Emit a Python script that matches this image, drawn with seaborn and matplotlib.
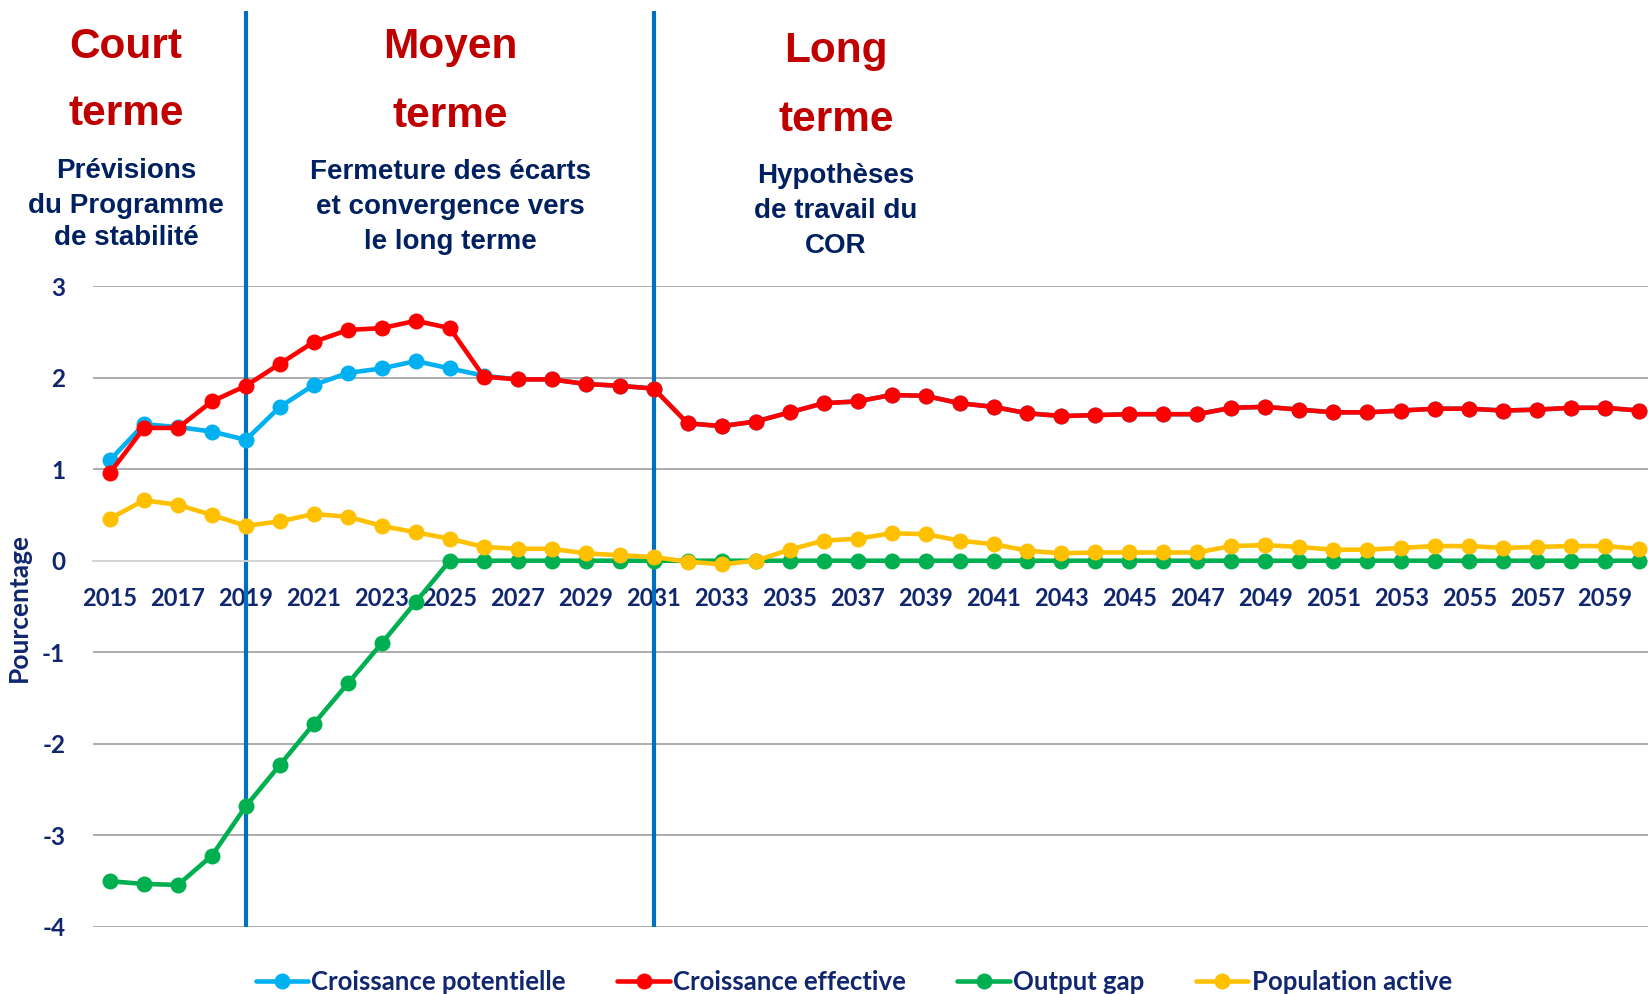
import pandas as pd
import matplotlib
matplotlib.use("Agg")
import matplotlib.pyplot as plt
from matplotlib.lines import Line2D
import seaborn as sns

years = list(range(2015, 2061))

croissance_potentielle = [1.10, 1.49, 1.46, 1.41, 1.32, 1.68, 1.92, 2.05, 2.10, 2.18, 2.10,
                          2.02, 1.98, 1.98, 1.93, 1.91, 1.88, 1.50, 1.47, 1.52, 1.62, 1.72,
                          1.74, 1.81, 1.80, 1.72, 1.68, 1.61, 1.58, 1.59, 1.60, 1.60, 1.60,
                          1.67, 1.68, 1.65, 1.62, 1.62, 1.64, 1.66, 1.66, 1.64, 1.65, 1.67,
                          1.67, 1.64]
croissance_effective = [0.96, 1.45, 1.45, 1.74, 1.91, 2.15, 2.39, 2.52, 2.54, 2.62, 2.54,
                        2.01, 1.98, 1.98, 1.93, 1.91, 1.88, 1.50, 1.47, 1.52, 1.62, 1.72,
                        1.74, 1.81, 1.80, 1.72, 1.68, 1.61, 1.58, 1.59, 1.60, 1.60, 1.60,
                        1.67, 1.68, 1.65, 1.62, 1.62, 1.64, 1.66, 1.66, 1.64, 1.65, 1.67,
                        1.67, 1.64]
output_gap = [-3.50, -3.53, -3.54, -3.22, -2.68, -2.23, -1.78, -1.34, -0.90, -0.45, 0.0,
              0.0, 0.0, 0.0, 0.0, 0.0, 0.0, 0.0, 0.0, 0.0, 0.0, 0.0,
              0.0, 0.0, 0.0, 0.0, 0.0, 0.0, 0.0, 0.0, 0.0, 0.0, 0.0,
              0.0, 0.0, 0.0, 0.0, 0.0, 0.0, 0.0, 0.0, 0.0, 0.0, 0.0,
              0.0, 0.0]
population_active = [0.46, 0.66, 0.61, 0.50, 0.38, 0.43, 0.51, 0.48, 0.38, 0.31, 0.24,
                     0.15, 0.13, 0.13, 0.08, 0.06, 0.04, -0.01, -0.04, 0.00, 0.12, 0.22,
                     0.24, 0.30, 0.29, 0.22, 0.18, 0.11, 0.08, 0.09, 0.09, 0.09, 0.09,
                     0.16, 0.17, 0.15, 0.12, 0.12, 0.14, 0.16, 0.16, 0.14, 0.15, 0.16,
                     0.16, 0.13]

series = ["Croissance potentielle", "Croissance effective", "Output gap", "Population active"]
colors = ["#00B0F0", "#FF0000", "#00B050", "#FFC000"]
period_bounds = [2019, 2031]

df = pd.DataFrame({
    "Année": years,
    "Croissance potentielle": croissance_potentielle,
    "Croissance effective": croissance_effective,
    "Output gap": output_gap,
    "Population active": population_active,
}).melt(id_vars="Année", var_name="Série", value_name="Valeur")

sns.set_theme(style="white")
plt.rcParams["font.family"] = ["Lato", "DejaVu Sans"]
plt.rcParams["axes.unicode_minus"] = False

navy = "#10266E"
W, H = 1648, 994
fig = plt.figure(figsize=(W / 100, H / 100), dpi=100)
ax = fig.add_axes([93 / W, 1 - 927 / H, (W - 93) / W, (927 - 286) / H])

sns.lineplot(data=df, x="Année", y="Valeur", hue="Série", hue_order=series,
             palette=colors, marker="o", markersize=11.5, markeredgewidth=0,
             linewidth=3.3, ax=ax, legend=False, zorder=3)

ax.set_xlim(2014.5, 2060.26)
ax.set_ylim(-4, 3)
ax.set_yticks(range(-4, 4))
ax.set_xticks(range(2015, 2060, 2))
ax.set_xlabel("")
ax.set_ylabel("")
ax.yaxis.grid(True, color="#A6A6A6", linewidth=1.3)
ax.xaxis.grid(False)
ax.set_axisbelow(True)
for side in ["left", "right", "top"]:
    ax.spines[side].set_visible(False)
ax.spines["bottom"].set_position(("data", 0))
ax.spines["bottom"].set_color("#D9D9D9")
ax.spines["bottom"].set_linewidth(1.3)
ax.tick_params(axis="x", length=0, pad=19, labelsize=17, labelcolor=navy)
ax.tick_params(axis="y", length=0, pad=20, labelsize=17.5, labelcolor=navy)
for lab in ax.get_xticklabels() + ax.get_yticklabels():
    lab.set_fontweight("bold")

ax.vlines(period_bounds, -4, 6.0, colors="#0070C0", linewidth=3, clip_on=False, zorder=2)

fig.text(19 / W, 1 - 607 / H, "Pourcentage", rotation=90, ha="center", va="center",
         fontsize=19, fontweight="bold", color=navy)

red = "#C00000"
sub = "#002060"
arial = ["Liberation Sans", "DejaVu Sans"]


def put_lines(x, ys, lines, size, color):
    for y, line in zip(ys, lines):
        fig.text(x / W, 1 - y / H, line, ha="center", va="center", fontsize=size,
                 fontweight="bold", color=color, family=arial)


put_lines(126, [47, 114], ["Court", "terme"], 30.5, red)
put_lines(450, [47, 116], ["Moyen", "terme"], 30.5, red)
put_lines(836, [51, 120], ["Long", "terme"], 30.5, red)
put_lines(126, [171, 206, 238], ["Prévisions", "du Programme", "de stabilité"], 20, sub)
put_lines(450, [172, 207, 242], ["Fermeture des écarts", "et convergence vers", "le long terme"], 20, sub)
put_lines(836, [176, 211, 246], ["Hypothèses", "de travail du", "COR"], 20, sub)

handles = [Line2D([0], [0], color=c, linewidth=3.3, marker="o", markersize=11.5,
                  markeredgewidth=0) for c in colors]
leg = fig.legend(handles, series, loc="center", bbox_to_anchor=(0.518, 0.012), ncol=4,
                 frameon=False, handlelength=2.05, handletextpad=0.12, columnspacing=2.0,
                 prop={"size": 18.5, "weight": "bold"})
for t in leg.get_texts():
    t.set_color(navy)

fig.savefig("out.png", dpi=100)
